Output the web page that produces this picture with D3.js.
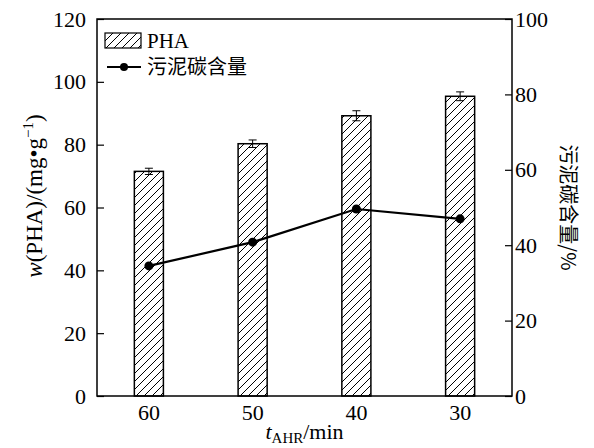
<!DOCTYPE html>
<html>
<head>
<meta charset="utf-8">
<script src="https://cdn.jsdelivr.net/npm/d3@7"></script>
<style>
  body { margin: 0; background: #fff; }
  text { font-family: "Liberation Serif", "Times New Roman", serif; fill: #000; }
  .cjk { font-family: "Noto Sans CJK SC", sans-serif; }
</style>
</head>
<body>
<svg id="chart" width="594" height="448"></svg>
<script>
const categories = ["60", "50", "40", "30"];
const phaValues = [71.5, 80.3, 89.2, 95.4];
const phaErrors = [1.0, 1.2, 1.6, 1.4];
const carbonValues = [34.5, 40.8, 49.6, 47.0];
const leftTicks = [0, 20, 40, 60, 80, 100, 120];
const rightTicks = [0, 20, 40, 60, 80, 100];

const margin = { top: 19, right: 82, bottom: 52, left: 97 };
const width = 594 - margin.left - margin.right;
const height = 448 - margin.top - margin.bottom;

const svg = d3.select("#chart");

const defs = svg.append("defs");
const pat = defs.append("pattern")
  .attr("id", "hatch")
  .attr("patternUnits", "userSpaceOnUse")
  .attr("width", 8).attr("height", 8);
pat.append("path")
  .attr("d", "M-2,10 L10,-2 M-2,2 L2,-2 M6,10 L10,6")
  .attr("stroke", "#000").attr("stroke-width", 1);

const g = svg.append("g")
  .attr("transform", `translate(${margin.left}, ${margin.top})`);

const xScale = d3.scaleBand()
  .domain(categories)
  .range([0, width])
  .paddingInner(0.72)
  .paddingOuter(0.36);

const yLeft = d3.scaleLinear().domain([0, 120]).range([height, 0]);
const yRight = d3.scaleLinear().domain([0, 100]).range([height, 0]);

// bars
g.selectAll("rect.bar")
  .data(phaValues)
  .enter().append("rect")
  .attr("class", "bar")
  .attr("x", (d, i) => xScale(categories[i]))
  .attr("y", d => yLeft(d))
  .attr("width", xScale.bandwidth())
  .attr("height", d => height - yLeft(d))
  .attr("fill", "url(#hatch)")
  .attr("stroke", "#000")
  .attr("stroke-width", 1.5);

// error bars
const cx = i => xScale(categories[i]) + xScale.bandwidth() / 2;
phaValues.forEach((v, i) => {
  const top = yLeft(v + phaErrors[i]);
  const bot = yLeft(v - phaErrors[i]);
  g.append("line").attr("x1", cx(i)).attr("x2", cx(i)).attr("y1", top).attr("y2", bot)
    .attr("stroke", "#000").attr("stroke-width", 1);
  [top, bot].forEach(y => {
    g.append("line").attr("x1", cx(i) - 4).attr("x2", cx(i) + 4).attr("y1", y).attr("y2", y)
      .attr("stroke", "#000").attr("stroke-width", 1);
  });
});

// line
const line = d3.line()
  .x((d, i) => cx(i))
  .y(d => yRight(d));
g.append("path")
  .datum(carbonValues)
  .attr("d", line)
  .attr("fill", "none")
  .attr("stroke", "#000")
  .attr("stroke-width", 2.2);
g.selectAll("circle.pt")
  .data(carbonValues)
  .enter().append("circle")
  .attr("cx", (d, i) => cx(i))
  .attr("cy", d => yRight(d))
  .attr("r", 4.5)
  .attr("fill", "#000");

// frame
g.append("rect")
  .attr("width", width).attr("height", height)
  .attr("fill", "none").attr("stroke", "#000").attr("stroke-width", 1.5);

// axes
const leftAxis = g.append("g")
  .call(d3.axisLeft(yLeft).tickValues(leftTicks).tickSize(-7).tickPadding(11));
const rightAxis = g.append("g")
  .attr("transform", `translate(${width}, 0)`)
  .call(d3.axisRight(yRight).tickValues(rightTicks).tickSize(-7).tickPadding(3));
const bottomAxis = g.append("g")
  .attr("transform", `translate(0, ${height})`)
  .call(d3.axisBottom(xScale).tickSize(0).tickPadding(8));

[leftAxis, rightAxis, bottomAxis].forEach(a => {
  a.select(".domain").remove();
  a.selectAll("line").attr("stroke", "#000").attr("stroke-width", 1.2);
  a.selectAll("text")
    .style("font-family", "'Liberation Serif', serif")
    .style("font-size", "22px")
    .attr("fill", "#000");
});

// axis titles
const xTitle = svg.append("text")
  .attr("x", margin.left + width / 2)
  .attr("y", 439)
  .attr("text-anchor", "middle")
  .style("font-size", "22px");
xTitle.append("tspan").style("font-style", "italic").text("t");
xTitle.append("tspan").attr("dy", 4).style("font-size", "15px").text("AHR");
xTitle.append("tspan").attr("dy", -4).text("/min");

const yTitle = svg.append("text")
  .attr("transform", "translate(42, 196) rotate(-90)")
  .attr("text-anchor", "middle")
  .style("font-size", "23px");
yTitle.append("tspan").style("font-style", "italic").text("w");
yTitle.append("tspan").text("(PHA)/(mg\u2022g");
yTitle.append("tspan").attr("dy", -9).style("font-size", "15px").text("\u22121");
yTitle.append("tspan").attr("dy", 9).text(")");

svg.append("text")
  .attr("class", "cjk")
  .attr("transform", `translate(561, ${margin.top + height / 2}) rotate(90)`)
  .attr("text-anchor", "middle")
  .style("font-size", "20px")
  .text("污泥碳含量/%");

// legend
const lg = svg.append("g").attr("transform", "translate(105, 33)");
lg.append("rect")
  .attr("width", 36).attr("height", 15)
  .attr("fill", "url(#hatch)")
  .attr("stroke", "#000").attr("stroke-width", 1.2);
lg.append("text").attr("x", 42).attr("y", 15)
  .style("font-size", "21px").text("PHA");
lg.append("line").attr("x1", 2).attr("x2", 36).attr("y1", 34).attr("y2", 34)
  .attr("stroke", "#000").attr("stroke-width", 2.2);
lg.append("circle").attr("cx", 19).attr("cy", 34).attr("r", 4).attr("fill", "#000");
lg.append("text").attr("class", "cjk").attr("x", 42).attr("y", 41)
  .style("font-size", "20px").text("污泥碳含量");
</script>
</body>
</html>
